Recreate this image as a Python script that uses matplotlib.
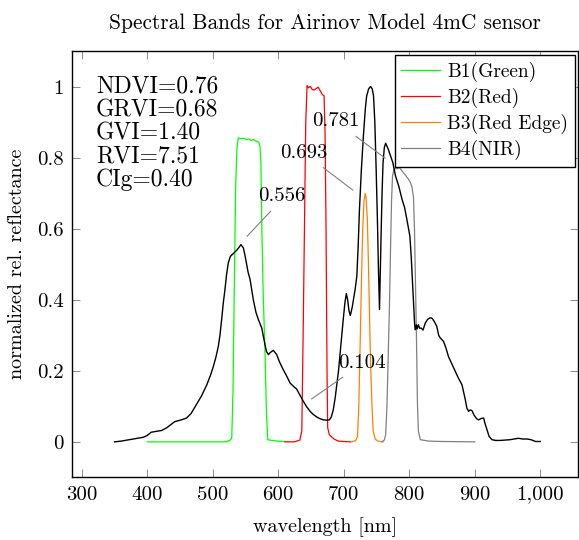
import matplotlib
matplotlib.use('Agg')
import matplotlib.pyplot as plt
from matplotlib.ticker import FuncFormatter, MultipleLocator

plt.rcParams['font.family'] = 'serif'
plt.rcParams['font.serif'] = ['cmr10', 'DejaVu Serif']
plt.rcParams['mathtext.fontset'] = 'cm'
plt.rcParams['axes.formatter.use_mathtext'] = True

# --- data ---
green_wl = [400, 520, 526, 529, 531, 533, 535, 537, 539, 543, 547, 551, 555, 559, 562,
            566, 570, 572, 573.5, 575, 577, 580, 582, 584, 590, 600, 610]
green_val = [0, 0, 0.004, 0.01, 0.15, 0.45, 0.72, 0.83, 0.857, 0.855, 0.856, 0.852, 0.854,
             0.849, 0.853, 0.848, 0.845, 0.835, 0.79, 0.6, 0.42, 0.24, 0.08, 0.006, 0.004,
             0.002, 0.001]

red_wl = [610, 625, 633, 636, 638, 640, 642, 644, 646, 649, 652, 655, 658, 661, 664, 667,
          670, 671.5, 673, 674.5, 675.5, 678, 685, 692, 700, 710]
red_val = [0, 0, 0.005, 0.03, 0.3, 0.6, 0.9, 1.005, 0.998, 1.002, 0.993, 0.992, 0.996, 1.0,
           0.99, 0.98, 0.975, 0.87, 0.6, 0.2, 0.04, 0.02, 0.008, 0.002, 0.001, 0]

rededge_wl = [712, 718, 721, 723, 725, 727, 729, 731, 732.7, 734, 736, 737.5, 739, 741, 743,
              745, 748, 752, 760]
rededge_val = [0, 0.003, 0.015, 0.1, 0.27, 0.45, 0.6, 0.68, 0.70, 0.69, 0.63, 0.52, 0.39,
               0.22, 0.11, 0.03, 0.008, 0.002, 0]

nir_wl = [758, 762, 764, 766, 768, 770, 771.5, 773, 774.5, 777, 781, 785, 791, 795, 799,
          802, 804, 806.5, 808, 809.5, 811, 812.5, 814, 817, 830, 850, 900]
nir_val = [0, 0.005, 0.02, 0.1, 0.25, 0.4, 0.55, 0.68, 0.75, 0.77, 0.77, 0.773, 0.759, 0.75,
           0.74, 0.73, 0.72, 0.69, 0.6, 0.45, 0.3, 0.11, 0.03, 0.006, 0.002, 0.001, 0]

refl_wl = [350, 360, 373, 385, 394, 400, 406, 415, 422, 430, 442, 452, 460, 467, 475, 483,
           491, 497, 501, 505, 508.5, 511, 513.6, 516, 518.7, 521, 523.8, 527, 531, 536.5,
           540, 543, 546.7, 549, 554, 557, 562, 566, 569.6, 574.8, 577, 579.8, 582, 585,
           588, 592.5, 595, 597.7, 602, 607.8, 613, 618, 623, 628, 633, 638.4, 643, 648.6,
           653, 658.8, 664, 669, 674, 678, 681, 684, 687, 689.4, 692, 694.5, 697, 699.5,
           702, 704, 706, 708, 710, 713, 717.4, 720, 722, 724, 727, 730, 733, 735, 738,
           741, 743.5, 745.5, 747.5, 749.5, 751.5, 753, 754.6, 756, 757, 758.5, 760, 762,
           764, 768, 775, 779, 784, 789, 793, 796.4, 799, 801, 803, 805, 806.6, 808, 809,
           811, 812, 814, 816, 818, 821, 824.5, 828, 832, 835, 838, 842, 845, 847.4, 852.4,
           856, 860, 865, 870.3, 875, 880.5, 883, 885.6, 888, 890.7, 893, 895.8, 899, 903,
           906, 910, 913.6, 916, 918.7, 922, 926.4, 932, 939, 946, 954, 960, 967, 973, 980,
           986, 992.7, 1000]
refl_val = [0.0, 0.002, 0.006, 0.01, 0.013, 0.018, 0.027, 0.03, 0.032, 0.04, 0.057, 0.062,
            0.067, 0.08, 0.105, 0.13, 0.161, 0.19, 0.213, 0.24, 0.269, 0.3, 0.345, 0.39,
            0.43, 0.47, 0.505, 0.523, 0.53, 0.54, 0.548, 0.556, 0.547, 0.528, 0.478, 0.458,
            0.40, 0.365, 0.345, 0.321, 0.3, 0.274, 0.255, 0.246, 0.252, 0.258, 0.252, 0.246,
            0.225, 0.203, 0.185, 0.166, 0.157, 0.149, 0.132, 0.114, 0.1, 0.086, 0.078, 0.07,
            0.065, 0.062, 0.061, 0.062, 0.07, 0.09, 0.125, 0.16, 0.2, 0.25, 0.297, 0.35,
            0.395, 0.418, 0.40, 0.37, 0.356, 0.38, 0.43, 0.467, 0.55, 0.655, 0.77, 0.862,
            0.94, 0.975, 0.995, 1.002, 0.995, 0.975, 0.9, 0.768, 0.62, 0.486, 0.373, 0.5,
            0.58, 0.7, 0.787, 0.83, 0.842, 0.825, 0.787, 0.75, 0.721, 0.684, 0.66, 0.627,
            0.6, 0.58, 0.523, 0.45, 0.392, 0.34, 0.316, 0.33, 0.318, 0.33, 0.32, 0.321,
            0.315, 0.335, 0.345, 0.35, 0.348, 0.34, 0.326, 0.3, 0.293, 0.283, 0.265, 0.24,
            0.22, 0.199, 0.18, 0.161, 0.14, 0.119, 0.095, 0.086, 0.09, 0.088, 0.075, 0.065,
            0.062, 0.066, 0.067, 0.05, 0.034, 0.015, 0.006, 0.004, 0.004, 0.005, 0.006,
            0.008, 0.01, 0.008, 0.008, 0.006, 0.001, 0.001]

band_labels = ['B1(Green)', 'B2(Red)', 'B3(Red Edge)', 'B4(NIR)']
index_lines = ['NDVI=0.76', 'GRVI=0.68', 'GVI=1.40', 'RVI=7.51', 'CIg=0.40']

# pins: label, text position, line start, line end (data coords)
pins = [
    ('0.556', (606, 0.692), (552.6, 0.58), (588.4, 0.65)),
    ('0.104', (728, 0.223), (651, 0.121), (698.4, 0.182)),
    ('0.693', (639, 0.814), (668.8, 0.773), (713.7, 0.71)),
    ('0.781', (688, 0.904), (718.8, 0.861), (763.1, 0.80)),
]

GREEN = '#00ff00'
RED = '#ff0000'
ORANGE = '#ff8000'
GRAY = '#808080'

fig = plt.figure(figsize=(5.79, 5.4), dpi=100)
ax = fig.add_axes([0.1249, 0.1161, 0.8734, 0.7895])

lw = 0.9
ax.plot(green_wl, green_val, color=GREEN, lw=lw, label=band_labels[0])
ax.plot(red_wl, red_val, color=RED, lw=lw, label=band_labels[1])
ax.plot(rededge_wl, rededge_val, color=ORANGE, lw=lw, label=band_labels[2])
ax.plot(nir_wl, nir_val, color=GRAY, lw=lw, label=band_labels[3])
ax.plot(refl_wl, refl_val, color='black', lw=1.0)

for lab, (tx, ty), (x0, y0), (x1, y1) in pins:
    ax.plot([x0, x1], [y0, y1], color=GRAY, lw=0.8)
    ax.text(tx, ty, lab, ha='center', va='center', fontsize=15)

for i, line in enumerate(index_lines):
    ax.text(321.8, 1.001 - i * 0.0657, line, ha='left', va='center', fontsize=17)

ax.set_xlim(285.6, 1057.7)
ax.set_ylim(-0.1, 1.102)
ax.xaxis.set_major_locator(MultipleLocator(100))
ax.yaxis.set_major_locator(MultipleLocator(0.2))
ax.xaxis.set_major_formatter(FuncFormatter(lambda v, p: f'{v:,.0f}'))
ax.yaxis.set_major_formatter(FuncFormatter(lambda v, p: f'{v:g}' if abs(v) > 1e-9 else '0'))
ax.tick_params(direction='in', top=True, right=True, length=5.8, width=0.6,
               color='#777777', labelsize=15, pad=6)
for s in ax.spines.values():
    s.set_linewidth(1.0)

ax.set_xlabel('wavelength [nm]', fontsize=14.5, labelpad=10)
ax.set_ylabel('normalized rel. reflectance', fontsize=14.5, labelpad=8)
ax.set_title('Spectral Bands for Airinov Model 4mC sensor', fontsize=15.4, pad=16)

leg = ax.legend(loc='upper right', bbox_to_anchor=(0.994, 0.9906), borderaxespad=0,
                fontsize=14, fancybox=False, framealpha=1, edgecolor='black',
                handlelength=2.0, handletextpad=0.35, labelspacing=0.3,
                borderpad=0.35)
leg.get_frame().set_linewidth(1.0)

fig.savefig('out.png', dpi=100, facecolor='white')
